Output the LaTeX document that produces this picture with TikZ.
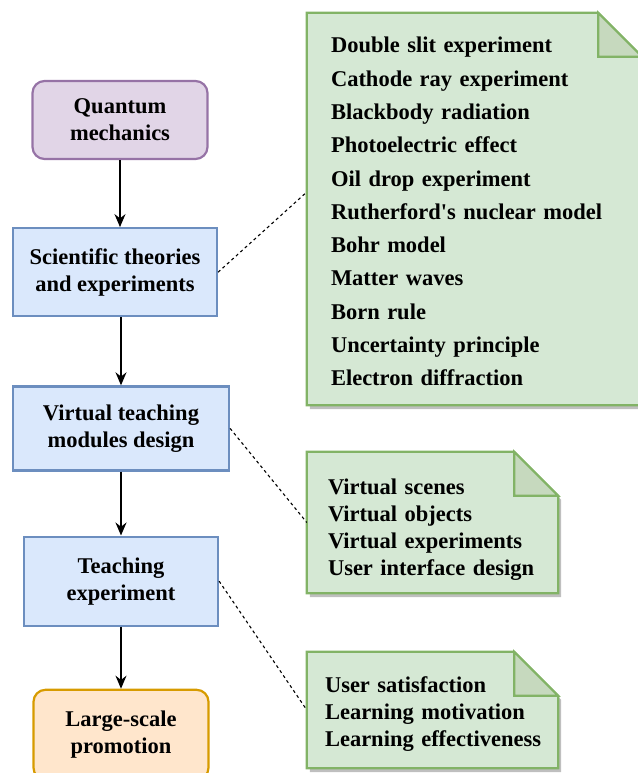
\documentclass[tikz,border=0pt]{standalone}
\usepackage{fontspec}
\setmainfont{Liberation Serif}[Ligatures=TeXOff]
\usepackage{tikz}
\usetikzlibrary{arrows.meta, positioning, backgrounds}
\usepackage{xcolor}
\definecolor{qmfill}{HTML}{E1D5E7}
\definecolor{qmdraw}{HTML}{9673A6}
\definecolor{stepfill}{HTML}{DAE8FC}
\definecolor{stepdraw}{HTML}{6C8EBF}
\definecolor{endfill}{HTML}{FFE6CC}
\definecolor{enddraw}{HTML}{D79B00}
\definecolor{notefill}{HTML}{D5E8D4}
\definecolor{notedraw}{HTML}{82B366}
\definecolor{foldfill}{HTML}{C6D9BE}
\newcommand{\foldnote}[1]{%
  \begin{pgfonlayer}{background}
    \fill[black!25] ([shift={(3pt,-4pt)}]#1.north west) -- ([shift={(-41pt,-4pt)}]#1.north east)
      -- ([shift={(3pt,-48pt)}]#1.north east) -- ([shift={(3pt,-4pt)}]#1.south east)
      -- ([shift={(3pt,-4pt)}]#1.south west) -- cycle;
    \filldraw[draw=notedraw, fill=notefill, line width=2.2pt] (#1.north west) -- ([xshift=-44pt]#1.north east)
      -- ([yshift=-44pt]#1.north east) -- (#1.south east) -- (#1.south west) -- cycle;
    \filldraw[draw=notedraw, fill=foldfill, line width=2.2pt] ([xshift=-44pt]#1.north east)
      -- ([shift={(-44pt,-44pt)}]#1.north east) -- ([yshift=-44pt]#1.north east) -- cycle;
  \end{pgfonlayer}}

\begin{document}
\begin{tikzpicture}[x=1pt, y=1pt,
    font=\fontsize{22.5}{27}\selectfont\bfseries,
    blk/.style={draw, line width=2.2pt, align=center, inner sep=0pt},
    startbox/.style={blk, rounded corners=12pt, fill=qmfill, draw=qmdraw},
    stepbox/.style={blk, fill=stepfill, draw=stepdraw},
    endbox/.style={blk, rounded corners=12pt, fill=endfill, draw=enddraw},
    note/.style={draw=none, align=left, inner ysep=0pt, anchor=center},
    flow/.style={line width=1.4pt, -{Stealth[length=13pt, width=11pt]}},
    link/.style={line width=1.1pt, dash pattern=on 3pt off 3pt}]
    \useasboundingbox (0,0) rectangle (637,-773);

    % main flow
    \node[startbox, minimum width=175pt, minimum height=78pt] at (120,-120)
                               (qm)    {Quantum\\mechanics};
    \node[stepbox, minimum width=204pt, minimum height=88pt, below=67pt of qm, xshift=-5pt]
                               (sci)   {Scientific theories\\and experiments};
    \node[stepbox, minimum width=216pt, minimum height=84pt, below=68pt of sci, xshift=6pt]
                               (virt)  {Virtual teaching\\modules design};
    \node[stepbox, minimum width=194pt, minimum height=89pt, below=64pt of virt]
                               (teach) {Teaching\\experiment};
    \node[endbox, minimum width=175pt, minimum height=90pt, below=62pt of teach]
                               (promo) {Large-scale\\promotion};

    \draw[flow] (qm.south) -- (qm.south |- sci.north);
    \draw[flow] (virt.north |- sci.south) -- (virt.north);
    \draw[flow] (virt) -- (teach);
    \draw[flow] (teach) -- (promo);

    % notes
    \node[note, font=\fontsize{22.5}{33.3}\selectfont\bfseries, minimum width=335pt, minimum height=392pt,
          inner xsep=24pt, text width=287pt, text height=21pt] at (474.5,-209)
      (exps) {Double slit experiment\\Cathode ray experiment\\Blackbody radiation\\Photoelectric effect\\
              Oil drop experiment\\Rutherford's nuclear model\\Bohr model\\Matter waves\\Born rule\\
              Uncertainty principle\\Electron diffraction};
    \node[note, minimum width=251pt, minimum height=141pt, inner xsep=21pt, text width=209pt,
          text height=29pt] at (432.5,-522.5)
      (mods) {Virtual scenes\\Virtual objects\\Virtual experiments\\User interface design};
    \node[note, minimum width=251pt, minimum height=116pt, inner xsep=18pt, text width=215pt,
          text height=23.5pt] at (432.5,-710)
      (eval) {User satisfaction\\Learning motivation\\\mbox{Learning effectiveness}};
    \foldnote{exps}
    \foldnote{mods}
    \foldnote{eval}

    \coordinate (expsin) at ([yshift=17pt]exps.west);
    \draw[link] (sci.east)   -- (expsin);
    \draw[link] (virt.east)  -- (mods.west);
    \draw[link] (teach.east) -- (eval.west);
  \end{tikzpicture}
\end{document}
